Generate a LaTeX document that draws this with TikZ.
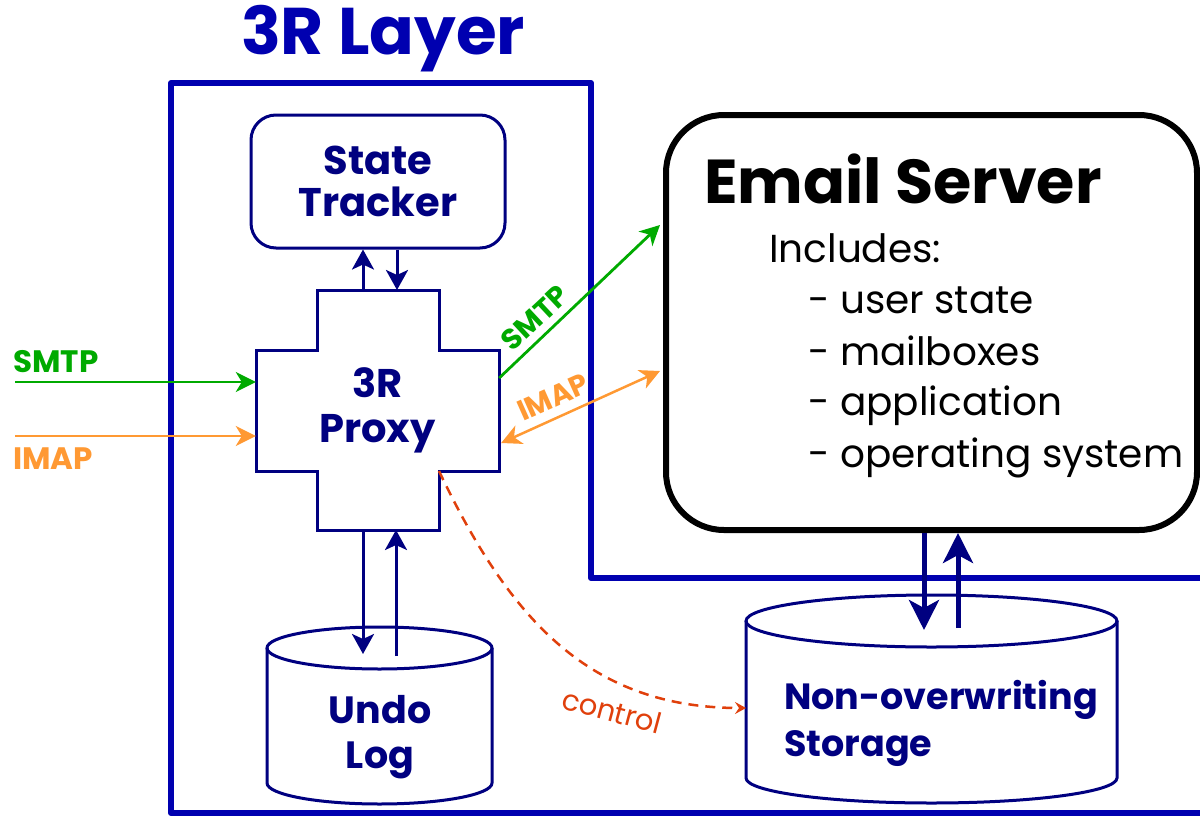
\documentclass[tikz,border=0pt]{standalone}
\usepackage{fontspec}
\setmainfont{Poppins}
\usetikzlibrary{arrows.meta,calc}
\definecolor{layerblue}{HTML}{0000B0}
\definecolor{navy}{HTML}{000080}
\definecolor{sgreen}{HTML}{00AA00}
\definecolor{iorange}{HTML}{FF9933}
\definecolor{ctrlred}{HTML}{E0400C}
\begin{document}
\begin{tikzpicture}[x=1pt,y=-1pt,
  layer/.style={draw=layerblue, line width=6pt, line join=round, line cap=round},
  navyline/.style={draw=navy, line width=3pt, line join=miter},
  navytext/.style={text=navy, font=\bfseries\fontsize{38}{45}\selectfont, inner sep=0pt},
  navyarr/.style={draw=navy, line width=3pt, -{Stealth[length=20pt,width=22pt,inset=5pt]}},
  bigarr/.style={draw=navy, line width=5pt, -{Stealth[length=30pt,width=30pt,inset=8pt]}},
  greenarr/.style={draw=sgreen, line width=2.8pt, -{Stealth[length=20pt,width=20pt,inset=6pt]}},
  orangearr/.style={draw=iorange, line width=2.8pt, -{Stealth[length=20pt,width=20pt,inset=6pt]}},
  orangedbl/.style={draw=iorange, line width=2.5pt, {Stealth[length=20pt,width=20pt,inset=6pt]}-{Stealth[length=20pt,width=20pt,inset=6pt]}},
  ctrlarr/.style={draw=ctrlred, line width=2.5pt, dash pattern=on 10pt off 7pt, -{Stealth[length=11pt,width=12pt,inset=4pt]}},
  proto/.style={font=\bfseries\fontsize{31}{31}\selectfont, inner sep=0pt},
  itemtext/.style={font=\fontsize{39}{39}\selectfont, inner sep=0pt, anchor=base west}
]
\useasboundingbox (0,0) rectangle (1200,817);

% 3R layer title and frame
\node[text=layerblue, font=\bfseries\fontsize{66}{66}\selectfont, inner sep=0pt] (title) at (383,39) {3R Layer};
\draw[layer] (1210,578) -- (591,578) -- (591,83) -- (171,83) -- (171,813) -- (1210,813);

% State tracker
\node[navyline, navytext, rounded corners=25pt, minimum width=254pt, minimum height=133pt, align=center,
      font=\bfseries\fontsize{40}{42}\selectfont] (tracker) at (378,181.5) {State\\Tracker};

% 3R proxy cross
\draw[navyline] (317,290) -- (439,290) -- (439,350) -- (499,350) -- (499,471) -- (439,471) -- (439,530)
  -- (317,530) -- (317,471) -- (256,471) -- (256,350) -- (317,350) -- cycle;
\node[navytext, font=\bfseries\fontsize{40}{45}\selectfont, align=center, minimum width=243pt, minimum height=121pt] (proxy) at (377.5,410.5) {3R\\Proxy};
\coordinate (proxytop) at (377.5,290);
\coordinate (proxybot) at (377.5,530);

% tracker <-> proxy
\draw[navyarr] ($(proxytop)+(-14.5,0)$) -- ($(tracker.south)+(-15,0)$);
\draw[navyarr] ($(tracker.south)+(19,0)$) -- ($(proxytop)+(19.5,0)$);

% Undo log cylinder
\draw[navyline, line width=3pt] (379.5,648) ellipse [x radius=112.5pt, y radius=21pt];
\draw[navyline, line width=3pt] (267,648) -- (267,783) arc[start angle=180, end angle=360, x radius=112.5pt, y radius=21pt] -- (492,648);
\node[navytext, align=center] (undo) at (380,737) {Undo\\Log};
\coordinate (undoDn) at (363,654);
\coordinate (undoUp) at (396,656);
\draw[navyarr] (proxybot -| undoDn) -- (undoDn);
\draw[navyarr] (undoUp) -- (proxybot -| undoUp);

% Email server
\node[draw=black, line width=6pt, rounded corners=58pt, minimum width=531pt, minimum height=415pt] (email) at (931.5,322.5) {};
\node[font=\bfseries\fontsize{62}{62}\selectfont, inner sep=0pt, anchor=base west] (etitle) at (704,203) {Email Server};
\node[itemtext] (incl) at (769,262) {Includes:};
\node[itemtext] (i1) at (808,313) {- user state};
\node[itemtext] (i2) at (808,365) {- mailboxes};
\node[itemtext] (i3) at (808,415) {- application};
\node[itemtext] (i4) at (808,467) {- operating system};

% Storage cylinder
\draw[navyline] (931.5,621) ellipse [x radius=185.5pt, y radius=26pt];
\draw[navyline] (746,621) -- (746,778) arc[start angle=180, end angle=360, x radius=185.5pt, y radius=25pt] -- (1117,621);
\node[navytext, align=left, anchor=west, font=\bfseries\fontsize{36.5}{47}\selectfont] (storage) at (784,723) {Non-overwriting\\Storage};
\coordinate (stDn) at (924,630);
\coordinate (stUp) at (958,628);
\coordinate (stLeft) at (746,708);
\draw[bigarr] (email.south -| stDn) -- (stDn);
\draw[bigarr] (stUp) -- (email.south -| stUp);

% Incoming SMTP / IMAP
\coordinate (smtpL) at (15,382);
\coordinate (imapL) at (15,436);
\draw[greenarr] (smtpL) -- (smtpL -| proxy.west);
\draw[orangearr] (imapL) -- (imapL -| proxy.west);
\node[proto, text=sgreen, anchor=base west] (smtplab) at (13,372) {SMTP};
\node[proto, text=iorange, anchor=base west] (imaplab) at (13,469) {IMAP};

% Proxy <-> email server
\draw[greenarr] ($(proxy.east)+(0,-32.5)$) -- ($(email.west)+(-3,-97.5)$);
\draw[orangedbl] ($(proxy.east)+(2,32.5)$) -- ($(email.west)+(-3,48.5)$);
\node[proto, text=sgreen, rotate=43, font=\bfseries\fontsize{29}{29}\selectfont] (smtp2) at (535,318) {SMTP};
\node[proto, text=iorange, rotate=24, font=\bfseries\fontsize{29}{29}\selectfont] (imap2) at (553,397) {IMAP};

% control
\coordinate (pcorner) at (439,471);
\draw[ctrlarr] (pcorner) .. controls (510,620) and (590,708) .. (stLeft);
\node[text=ctrlred, rotate=-15, font=\fontsize{29}{29}\selectfont, inner sep=0pt] (ctrl) at (612,711) {control};
\end{tikzpicture}
\end{document}
